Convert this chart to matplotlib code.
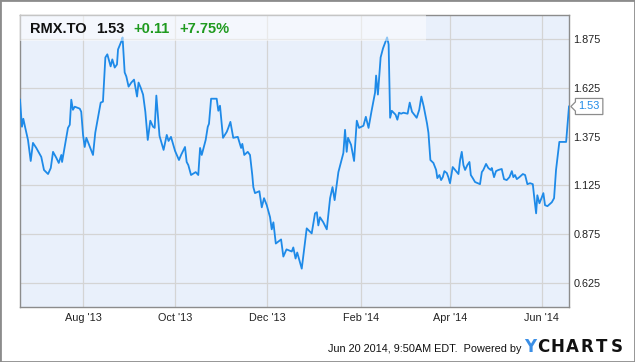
import pandas as pd
import matplotlib
matplotlib.use('Agg')
import matplotlib.pyplot as plt
import matplotlib.dates as mdates
from matplotlib.patches import Rectangle
from matplotlib.path import Path

plt.rcParams['font.family'] = ['Liberation Sans', 'DejaVu Sans']

# data
start = pd.Timestamp('2013-06-20')
day_offsets = [0.0, 1.3, 2.2, 3.5, 5.3, 7.1, 8.6, 10.8, 14.1, 15.9, 18.6, 20.4, 21.9, 24.1, 25.7, 27.4, 27.9, 29.6,
               31.8, 33.0, 34.0, 35.1, 36.3, 39.6, 40.6, 41.8, 42.9, 44.0, 45.8, 48.4, 49.9, 51.7, 53.5, 55.0, 56.6,
               57.9, 60.1, 61.2, 62.8, 64.3, 65.0, 67.2, 68.0, 69.4, 70.5, 72.0, 73.8, 75.6, 77.6, 78.6, 80.0, 81.6,
               83.1, 84.7, 86.4, 88.2, 89.3, 90.4, 92.5, 95.2, 97.3, 98.5, 100.1, 102.8, 105.4, 106.8, 109.4, 110.5,
               111.6, 113.4, 116.5, 118.2, 119.4, 120.5, 123.1, 124.5, 125.3, 126.7, 130.4, 131.5, 132.6, 134.6,
               137.1, 138.1, 139.5, 141.4, 144.4, 146.6, 147.4, 148.7, 151.0, 152.5, 154.0, 154.7, 155.8, 158.7,
               160.3, 161.8, 163.6, 165.8, 166.9, 168.0, 169.6, 173.1, 174.6, 176.7, 180.2, 181.2, 182.7, 183.8,
               186.8, 190.1, 193.4, 195.6, 196.8, 197.8, 198.9, 201.1, 203.4, 205.6, 207.2, 208.6, 211.1, 214.4,
               215.5, 216.6, 217.5, 219.5, 221.5, 223.3, 224.8, 227.7, 229.3, 231.1, 233.0, 235.4, 236.1, 237.3,
               239.1, 240.7, 243.4, 244.4, 245.4, 246.5, 249.0, 250.2, 251.3, 252.7, 254.2, 257.0, 258.4, 259.9,
               263.0, 264.7, 266.1, 267.7, 269.9, 270.8, 272.1, 274.1, 275.9, 276.7, 278.1, 279.2, 280.3, 281.4,
               283.0, 284.0, 285.1, 286.9, 288.5, 290.7, 291.8, 292.9, 294.0, 295.1, 296.6, 298.0, 298.9, 300.2,
               301.7, 305.0, 306.2, 307.2, 309.0, 310.5, 312.1, 312.8, 314.3, 315.6, 317.2, 319.4, 320.9, 322.7,
               324.5, 326.1, 327.1, 328.2, 329.4, 331.1, 333.4, 334.9, 336.4, 338.2, 340.0, 340.8, 342.2, 343.0,
               344.4, 346.0, 347.0, 348.1, 349.7, 352.6, 354.1, 355.4, 357.6, 359.2, 362.1, 364.0]
prices = [1.565, 1.426, 1.467, 1.420, 1.358, 1.250, 1.343, 1.317, 1.271, 1.204, 1.183, 1.214, 1.297, 1.266, 1.240,
          1.281, 1.245, 1.322, 1.420, 1.436, 1.565, 1.513, 1.529, 1.519, 1.503, 1.384, 1.322, 1.369, 1.333, 1.281,
          1.395, 1.472, 1.550, 1.555, 1.782, 1.798, 1.736, 1.772, 1.730, 1.746, 1.823, 1.865, 1.885, 1.705, 1.684,
          1.632, 1.653, 1.668, 1.581, 1.653, 1.627, 1.591, 1.503, 1.358, 1.457, 1.426, 1.420, 1.586, 1.379, 1.307,
          1.384, 1.353, 1.374, 1.302, 1.255, 1.281, 1.322, 1.245, 1.229, 1.178, 1.193, 1.178, 1.317, 1.281, 1.358,
          1.426, 1.441, 1.570, 1.570, 1.508, 1.534, 1.369, 1.400, 1.420, 1.451, 1.369, 1.374, 1.317, 1.338, 1.281,
          1.297, 1.281, 1.178, 1.116, 1.085, 1.095, 1.012, 1.059, 1.023, 0.961, 0.899, 0.935, 0.826, 0.847, 0.759,
          0.796, 0.785, 0.806, 0.749, 0.780, 0.697, 0.904, 0.878, 0.981, 0.987, 0.919, 0.961, 0.935, 0.899, 1.059,
          1.116, 1.049, 1.193, 1.291, 1.410, 1.297, 1.369, 1.333, 1.250, 1.457, 1.420, 1.431, 1.477, 1.420, 1.503,
          1.601, 1.689, 1.591, 1.782, 1.829, 1.885, 1.849, 1.472, 1.508, 1.488, 1.462, 1.498, 1.493, 1.498, 1.493,
          1.550, 1.503, 1.472, 1.513, 1.581, 1.529, 1.441, 1.395, 1.255, 1.240, 1.204, 1.162, 1.178, 1.152, 1.167,
          1.198, 1.188, 1.167, 1.136, 1.219, 1.204, 1.183, 1.255, 1.297, 1.229, 1.204, 1.229, 1.245, 1.178, 1.162,
          1.142, 1.131, 1.193, 1.204, 1.235, 1.214, 1.204, 1.214, 1.167, 1.198, 1.204, 1.209, 1.157, 1.152, 1.167,
          1.198, 1.167, 1.178, 1.157, 1.167, 1.183, 1.178, 1.131, 1.136, 1.131, 1.074, 0.981, 1.074, 1.033, 1.064,
          1.085, 1.023, 1.018, 1.038, 1.059, 1.204, 1.348, 1.348, 1.348, 1.530]
dates = start + pd.to_timedelta(day_offsets, unit='D')

ticker = 'RMX.TO'
last_price = '1.53'
change = '+0.11'
change_pct = '+7.75%'
y_ticks = [0.625, 0.875, 1.125, 1.375, 1.625, 1.875]
footer = 'Jun 20 2014, 9:50AM EDT.  Powered by'

line_col = '#1e8ae8'
green = '#1f9a1f'
edge = '#8c8c8c'


def tag_box(x0, y0, width, height, mutation_size):
    # rectangle with a small notch pointing left
    pad = mutation_size * 0.28
    x0 -= pad
    y0 -= pad
    width += 2 * pad
    height += 2 * pad
    x1, y1, ym = x0 + width, y0 + height, y0 + height / 2
    tip = mutation_size * 0.42
    verts = [(x0, y0), (x1, y0), (x1, y1), (x0, y1), (x0, ym + tip), (x0 - tip, ym), (x0, ym - tip), (x0, y0)]
    return Path(verts, closed=True)


fig = plt.figure(figsize=(6.35, 3.62), dpi=100)
ax = fig.add_axes([20 / 635, 55 / 362, 549 / 635, 292 / 362])
ax.set_facecolor('#e9f0fb')
ax.plot(dates, prices, color=line_col, lw=1.3, zorder=3)

ax.set_xlim(start, start + pd.Timedelta(days=364))
ax.set_ylim(0.5, 2.0)

ax.xaxis.set_major_locator(mdates.MonthLocator(bymonth=[2, 4, 6, 8, 10, 12]))
ax.xaxis.set_major_formatter(mdates.DateFormatter("%b '%y"))
ax.yaxis.tick_right()
ax.set_yticks(y_ticks)
ax.set_yticklabels([f'{v:.3f}' for v in y_ticks])
ax.tick_params(axis='y', length=0, pad=3, labelsize=7.8, colors='#222222')
ax.tick_params(axis='x', length=0, pad=4.5, labelsize=7.8, colors='#222222')

ax.grid(True, color='#d4d4d4', lw=0.9)
ax.set_axisbelow(True)
for s in ax.spines.values():
    s.set_color(edge)
    s.set_linewidth(1)

# header band on top of the plot
ax.add_patch(Rectangle((0, 0.911), 0.7395, 0.089, transform=ax.transAxes,
                       fc='white', ec='none', alpha=0.5, zorder=4))
t1 = ax.text(0.0182, 0.953, ticker, transform=ax.transAxes, fontsize=10.5, fontweight='bold',
             color='#111111', ha='left', va='center', zorder=5)
t2 = ax.annotate(last_price, xy=(1, 0.5), xycoords=t1, xytext=(7, 0), textcoords='offset points',
                 fontsize=10.5, fontweight='bold', color='#111111', ha='left', va='center', zorder=5)
t3 = ax.annotate(change, xy=(1, 0.5), xycoords=t2, xytext=(6.5, 0), textcoords='offset points',
                 fontsize=10.5, fontweight='bold', color=green, ha='left', va='center', zorder=5)
ax.annotate(change_pct, xy=(1, 0.5), xycoords=t3, xytext=(6.5, 0), textcoords='offset points',
            fontsize=10.5, fontweight='bold', color=green, ha='left', va='center', zorder=5)

# last value tag
ax.annotate(last_price, xy=(dates[-1], prices[-1]), xytext=(6.8, 0), textcoords='offset points',
            fontsize=7.8, color=line_col, ha='left', va='center', annotation_clip=False,
            bbox=dict(boxstyle=tag_box, fc='white', ec=edge, lw=0.9))

# footer
fig.text(521 / 635, 1 - 349 / 362, footer, ha='right', va='center', fontsize=7.8, color='#111111')
logo_x = [530, 543, 557.5, 572, 587, 602, 617]
for ch, px in zip('YCHARTS', logo_x):
    fig.text(px / 635, 1 - 347 / 362, ch, ha='center', va='center', fontsize=12, fontweight='heavy',
             family='DejaVu Sans', color='#3b8fe6' if ch == 'Y' else '#111111')

fig.patches.append(Rectangle((0, 0), 1, 1, transform=fig.transFigure, fill=False, ec=edge, lw=2))

fig.savefig('out.png', dpi=100)
